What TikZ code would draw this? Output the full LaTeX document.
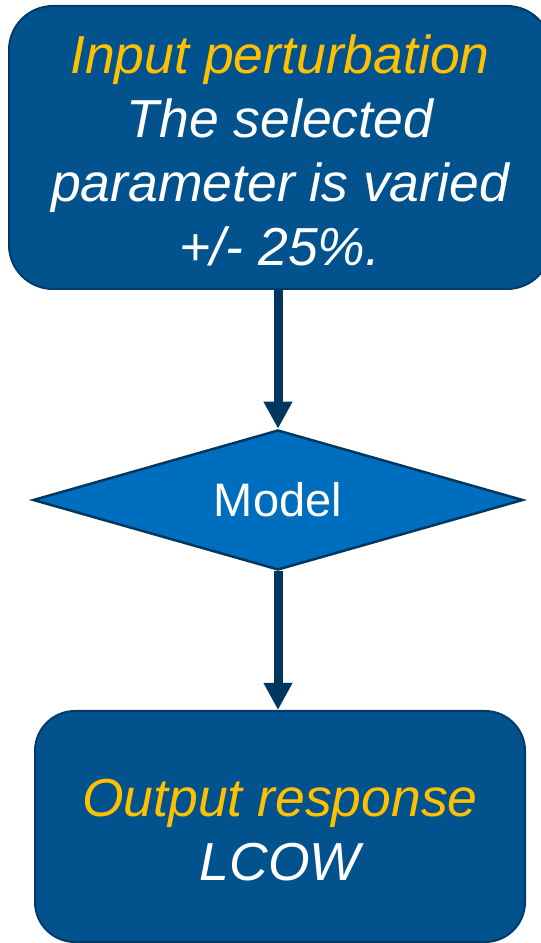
\documentclass[tikz,border=0pt]{standalone}
\usepackage{fontspec}
\setmainfont{Liberation Sans}
\usetikzlibrary{shapes.geometric,arrows.meta}

\definecolor{boxblue}{HTML}{02538D}
\definecolor{boxedge}{HTML}{003B6A}
\definecolor{modelblue}{HTML}{006EBF}
\definecolor{navy}{HTML}{00375F}
\definecolor{gold}{HTML}{FFC000}

\begin{document}
\begin{tikzpicture}[x=1pt,y=1pt,
  stagebox/.style={draw=boxedge, line width=2pt, fill=boxblue,
    rounded corners=44pt, inner sep=0pt},
  decision/.style={diamond, draw=navy, line width=2.5pt, fill=modelblue,
    aspect=3.5, inner sep=0pt, text=white,
    font=\fontsize{47}{56}\selectfont},
  stagetext/.style={align=center, text=white, inner sep=0pt,
    font=\fontsize{53.5}{64}\selectfont\itshape},
  flow/.style={draw=navy, line width=9pt,
    -{Triangle[width=27pt,length=27pt]}}
]
\useasboundingbox (0,0) rectangle (541,943);
\clip (0,0) rectangle (541,943);

% process boxes and the decision diamond
\node[stagebox, minimum width=542pt, minimum height=283pt] (input) at (280,795.5) {};
\node[decision, minimum width=490pt, minimum height=140pt] (model) at (278,443) {Model};
\node[stagebox, rounded corners=40pt, minimum width=490pt, minimum height=231pt] (output) at (280,116.5) {};

% box texts
\node[stagetext] (inputtext) at (280,793)
  {\textcolor{gold}{Input perturbation}\\The selected\\parameter is varied\\+/- 25\%.};
\node[stagetext] (outputtext) at (280,113)
  {\textcolor{gold}{Output response}\\LCOW};

% connectors
\draw[flow] (model.north |- input.south) -- (model.north);
\draw[flow] (model.south) -- (model.south |- output.north);
\end{tikzpicture}
\end{document}
